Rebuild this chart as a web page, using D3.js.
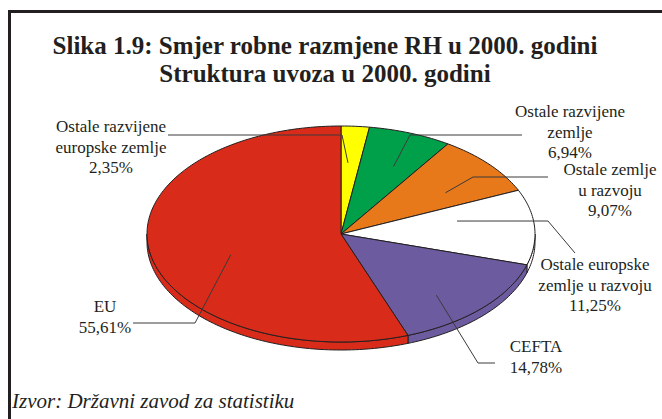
<!DOCTYPE html>
<html>
<head>
<meta charset="utf-8">
<script src="https://cdn.jsdelivr.net/npm/d3@7"></script>
</head>
<body style="margin:0; background:#fff">
<script>
var width = 662, height = 419;

// data
var categories = ["Ostale razvijene europske zemlje", "Ostale razvijene zemlje", "Ostale zemlje u razvoju",
                  "Ostale europske zemlje u razvoju", "CEFTA", "EU"];
var values = [2.35, 6.94, 9.07, 11.25, 14.78, 55.61];
var colors = ["#ffff00", "#00a04a", "#e8791a", "#ffffff", "#6d5ba0", "#d92b1a"];
var labelLines = [
  ["Ostale razvijene", "europske zemlje", "2,35%"],
  ["Ostale razvijene", "zemlje", "6,94%"],
  ["Ostale zemlje", "u razvoju", "9,07%"],
  ["Ostale europske", "zemlje u razvoju", "11,25%"],
  ["CEFTA", "14,78%"],
  ["EU", "55,61%"]
];

// label layout: text centre, first baseline, leader start + elbow, and where the leader ends inside the slice
var labelLayout = [
  { x: 111, y: 132, p0: [168, 135], p1: [342, 135], t: 0.37, r: 0.66 },
  { x: 570, y: 117, p0: [522, 135], p1: [410, 135], t: 0.60, r: 0.68 },
  { x: 610, y: 175, p0: [548, 177], p1: [473, 177], t: 0.65, r: 0.66 },
  { x: 595, y: 270, p0: [575, 253], p1: [548, 221], t: 0.31, r: 0.61 },
  { x: 536, y: 352, p0: [495, 363], p1: [478, 363], t: 0.61, r: 0.75 },
  { x: 105, y: 312, p0: [133, 323], p1: [195, 323], t: 0.457, r: 0.60 }
];

var cx = 341, cy = 234, rx = 194, ry = 108, depth = 8;
var serif = "'Liberation Serif', serif";

var svg = d3.select("body").append("svg")
  .attr("width", width)
  .attr("height", height);

// frame
svg.append("rect")
  .attr("x", 9.5).attr("y", 11.5)
  .attr("width", 800).attr("height", 600)
  .attr("fill", "none")
  .attr("stroke", "#231f20")
  .attr("stroke-width", 3);

// title
var titleLines = ["Slika 1.9: Smjer robne razmjene RH u 2000. godini", "Struktura uvoza u 2000. godini"];
svg.selectAll("text.title")
  .data(titleLines)
  .enter().append("text")
  .attr("class", "title")
  .attr("x", 325)
  .attr("y", function(d, i) { return 54 + i * 28; })
  .attr("text-anchor", "middle")
  .attr("fill", "#231f20")
  .style("font-family", serif)
  .style("font-size", "25px")
  .style("font-weight", "bold")
  .text(function(d) { return d; });

var pie = d3.pie().sort(null).startAngle(0).endAngle(2 * Math.PI);
var arcs = pie(values);

function pt(a, r, dz) {
  return [cx + rx * r * Math.sin(a), cy - ry * r * Math.cos(a) + (dz || 0)];
}
function arcPts(a0, a1, dz) {
  var n = Math.max(2, Math.ceil(Math.abs(a1 - a0) / 0.02));
  return d3.range(n + 1).map(function(i) { return pt(a0 + (a1 - a0) * i / n, 1, dz); });
}
var line = d3.line();

// side walls (front half only)
svg.append("g").selectAll("path")
  .data(arcs)
  .enter().append("path")
  .attr("d", function(d) {
    var s = Math.max(d.startAngle, Math.PI / 2), e = Math.min(d.endAngle, 3 * Math.PI / 2);
    if (s >= e) return null;
    return line(arcPts(s, e, 0).concat(arcPts(e, s, depth))) + "Z";
  })
  .attr("fill", function(d, i) { return colors[i]; })
  .attr("stroke", "#231f20")
  .attr("stroke-width", 1);

// top faces
svg.append("g").selectAll("path")
  .data(arcs)
  .enter().append("path")
  .attr("d", function(d) {
    return line([[cx, cy]].concat(arcPts(d.startAngle, d.endAngle, 0))) + "Z";
  })
  .attr("fill", function(d, i) { return colors[i]; })
  .attr("stroke", "#231f20")
  .attr("stroke-width", 1)
  .attr("stroke-linejoin", "round");

// leader lines
svg.append("g").selectAll("path")
  .data(arcs)
  .enter().append("path")
  .attr("d", function(d, i) {
    var L = labelLayout[i];
    var a = d.startAngle + (d.endAngle - d.startAngle) * L.t;
    return line([L.p0, L.p1, pt(a, L.r, 0)]);
  })
  .attr("fill", "none")
  .attr("stroke", "#3a3a3a")
  .attr("stroke-width", 1);

// labels, one text per line
labelLines.forEach(function(lines, i) {
  var L = labelLayout[i];
  svg.append("g").selectAll("text")
    .data(lines)
    .enter().append("text")
    .attr("x", L.x)
    .attr("y", function(d, j) { return L.y + j * 20.5; })
    .attr("text-anchor", "middle")
    .attr("fill", "#231f20")
    .style("font-family", serif)
    .style("font-size", "17px")
    .text(function(d) { return d; });
});

// source
svg.append("text")
  .attr("x", 12).attr("y", 408)
  .attr("fill", "#231f20")
  .style("font-family", serif)
  .style("font-size", "21px")
  .style("font-style", "italic")
  .text("Izvor: Državni zavod za statistiku");
</script>
</body>
</html>
